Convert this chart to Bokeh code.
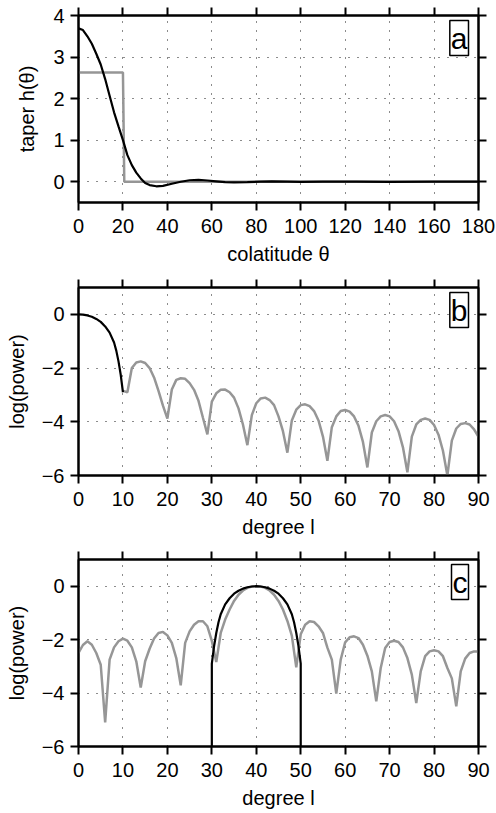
from bokeh.plotting import figure
from bokeh.models import Range1d, FixedTicker, LinearAxis, Label
from bokeh.layouts import column
from bokeh.embed import file_html
from bokeh.resources import INLINE

# ---------------- data ----------------
# panel a: taper h(theta) vs colatitude
theta_taper = [0, 2, 4, 6, 8, 10, 12, 14, 16, 18, 20, 22, 24, 26, 28, 30, 32, 35, 38, 42,
               46, 50, 54, 58, 62, 66, 70, 76, 82, 87, 94, 100, 110, 125, 140, 160, 180]
h_taper = [3.69, 3.65, 3.5, 3.32, 3.08, 2.82, 2.47, 2.07, 1.67, 1.33, 1.0, 0.64, 0.4, 0.22,
           0.08, -0.03, -0.08, -0.11, -0.1, -0.05, 0.0, 0.035, 0.045, 0.03, 0.01, -0.01,
           -0.015, -0.01, 0.003, 0.01, 0.003, -0.004, 0.0, 0.003, -0.002, 0.001, 0.0]
theta_box = [0, 20, 20.6, 180]
h_box = [2.63, 2.63, 0.0, 0.0]

# panel b: log(power) vs degree l
l_b_black = [0, 1, 2, 3, 4, 5, 6, 7, 8, 8.5, 9, 9.5, 10]
p_b_black = [0, -0.01, -0.04, -0.09, -0.17, -0.28, -0.45, -0.68, -1.05, -1.35, -1.75, -2.25, -2.9]
l_b_grey = list(range(10, 91))
p_b_grey = [-2.85, -2.9, -2.0, -1.79, -1.75, -1.81, -2.0, -2.35, -2.85, -3.4,
            -3.88, -2.8, -2.44, -2.38, -2.4, -2.56, -2.81, -3.22, -3.85, -4.47,
            -3.25, -2.94, -2.81, -2.8, -2.9, -3.1, -3.5, -4.1, -4.87,
            -3.75, -3.31, -3.13, -3.1, -3.19, -3.38, -3.8, -4.35, -5.15,
            -3.95, -3.55, -3.38, -3.35, -3.42, -3.6, -3.95, -4.55, -5.45,
            -4.2, -3.8, -3.6, -3.56, -3.62, -3.8, -4.15, -4.75, -5.7,
            -4.4, -3.98, -3.8, -3.75, -3.8, -3.98, -4.35, -4.95, -5.88,
            -4.55, -4.1, -3.93, -3.88, -3.93, -4.12, -4.48, -5.08, -6.0,
            -4.7, -4.25, -4.08, -4.05, -4.1, -4.28, -4.56]

# panel c: log(power) vs degree l
l_c_black = [30, 30, 30.5, 31, 31.5, 32, 33, 34, 35, 36, 37, 38, 39, 40,
             41, 42, 43, 44, 45, 46, 47, 48, 48.5, 49, 49.5, 50, 50]
p_c_black = [-8, -2.9, -2.25, -1.75, -1.35, -1.05, -0.68, -0.45, -0.28, -0.17, -0.09, -0.04, -0.01, 0,
             -0.01, -0.04, -0.09, -0.17, -0.28, -0.45, -0.68, -1.05, -1.35, -1.75, -2.25, -2.9, -8]
l_c_grey = list(range(0, 91))
p_c_grey = [-2.5, -2.2, -2.06, -2.19, -2.5, -2.94, -5.1, -2.75, -2.29, -2.06,
            -1.96, -2.04, -2.29, -2.81, -3.79, -2.81, -2.34, -1.96, -1.75, -1.71,
            -1.84, -2.12, -2.69, -3.71, -2.12, -1.69, -1.44, -1.31, -1.31, -1.5,
            -2.05, -2.84, -1.75, -1.25, -0.87, -0.55, -0.32, -0.16, -0.06, -0.015,
            0.0, -0.015, -0.06, -0.16, -0.32, -0.55, -0.87, -1.3, -1.85, -3.04,
            -1.8, -1.44, -1.31, -1.34, -1.5, -1.75, -2.3, -2.75, -4.02, -2.75,
            -2.1, -1.91, -1.875, -1.94, -2.19, -2.6, -3.19, -4.31, -3.06, -2.31,
            -2.09, -2.04, -2.09, -2.29, -2.69, -3.31, -4.37, -3.19, -2.62, -2.44,
            -2.4, -2.44, -2.62, -3.06, -3.45, -4.5, -3.19, -2.71, -2.5, -2.44, -2.44]

ticks_a_x = [0, 20, 40, 60, 80, 100, 120, 140, 160, 180]
ticks_a_y = [0, 1, 2, 3, 4]
ticks_l_x = [0, 10, 20, 30, 40, 50, 60, 70, 80, 90]
ticks_l_y = [-6, -4, -2, 0]
minus_labels = {-6: "\u22126", -4: "\u22124", -2: "\u22122", 0: "0"}

FONT = "Liberation Sans"
GREY = "#969696"


def style_axis(ax):
    ax.major_tick_out = 8
    ax.major_tick_in = 0
    ax.minor_tick_out = 0
    ax.minor_tick_in = 0
    ax.major_tick_line_width = 2
    ax.major_tick_line_color = "black"
    ax.axis_line_width = 2
    ax.axis_line_color = "black"
    ax.major_label_text_font = FONT
    ax.major_label_text_color = "black"
    ax.axis_label_text_font = FONT
    ax.axis_label_text_font_style = "normal"
    ax.axis_label_text_font_size = "20px"
    ax.axis_label_text_color = "black"


def make_fig(xr, yr, xt, yt, xlabel, ylabel, fh, top, bottom, ylab_standoff, tag, ovr=None):
    p = figure(frame_width=400, frame_height=fh,
               x_range=Range1d(*xr), y_range=Range1d(*yr),
               output_backend="svg", toolbar_location=None,
               min_border_left=78, min_border_right=17,
               min_border_top=top, min_border_bottom=bottom)
    bx = p.below[0]
    ly = p.left[0]
    bx.ticker = FixedTicker(ticks=xt)
    ly.ticker = FixedTicker(ticks=yt)
    bx.axis_label = xlabel
    ly.axis_label = ylabel
    if ovr:
        ly.major_label_overrides = ovr
    style_axis(bx)
    style_axis(ly)
    bx.major_label_text_font_size = "20px"
    ly.major_label_text_font_size = "20px"
    bx.major_label_standoff = 8
    ly.major_label_standoff = 6
    bx.axis_label_standoff = 7
    ly.axis_label_standoff = ylab_standoff

    top_ax = LinearAxis(ticker=FixedTicker(ticks=xt),
                        major_label_overrides={t: "" for t in xt},
                        major_label_standoff=0, major_label_text_font_size="1px")
    right_ax = LinearAxis(ticker=FixedTicker(ticks=yt),
                          major_label_overrides={t: "" for t in yt},
                          major_label_standoff=0, major_label_text_font_size="1px")
    style_axis(top_ax)
    style_axis(right_ax)
    p.add_layout(top_ax, "above")
    p.add_layout(right_ax, "right")

    p.xgrid.ticker = FixedTicker(ticks=xt)
    p.ygrid.ticker = FixedTicker(ticks=yt)
    for g in (p.xgrid, p.ygrid):
        g.grid_line_color = "black"
        g.grid_line_dash = "1 8"
        g.grid_line_width = 1
        g.grid_line_alpha = 0.9
    p.outline_line_color = "black"
    p.outline_line_width = 2
    p.background_fill_color = "white"
    p.border_fill_color = "white"
    lab = Label(x=xr[1], y=yr[1], x_offset=-10, y_offset=-5, text=tag,
                text_align="right", text_baseline="top", text_font=FONT,
                text_font_size="30px", text_color="black",
                border_line_color="black", border_line_width=1.5,
                background_fill_color="white", padding=1)
    p.add_layout(lab)
    return p


pa = make_fig((0, 180), (-0.5, 4), ticks_a_x, ticks_a_y, "colatitude \u03b8", "taper h(\u03b8)",
              187, 15, 62, 12, "a")
pa.line(theta_box, h_box, line_color=GREY, line_width=2.5)
pa.line(theta_taper, h_taper, line_color="black", line_width=2.2)

pb = make_fig((0, 90), (-6, 1), ticks_l_x, ticks_l_y, "degree l", "log(power)",
              188, 20, 66, 11, "b", minus_labels)
pb.line(l_b_grey, p_b_grey, line_color=GREY, line_width=2.5)
pb.line(l_b_black, p_b_black, line_color="black", line_width=2.2)

pc = make_fig((0, 90), (-6, 1), ticks_l_x, ticks_l_y, "degree l", "log(power)",
              187, 18, 62, 11, "c", minus_labels)
pc.line(l_c_grey, p_c_grey, line_color=GREY, line_width=2.5)
pc.line(l_c_black, p_c_black, line_color="black", line_width=2.2)

layout = column(pa, pb, pc)
open("out.html", "w").write(file_html(layout, INLINE))
